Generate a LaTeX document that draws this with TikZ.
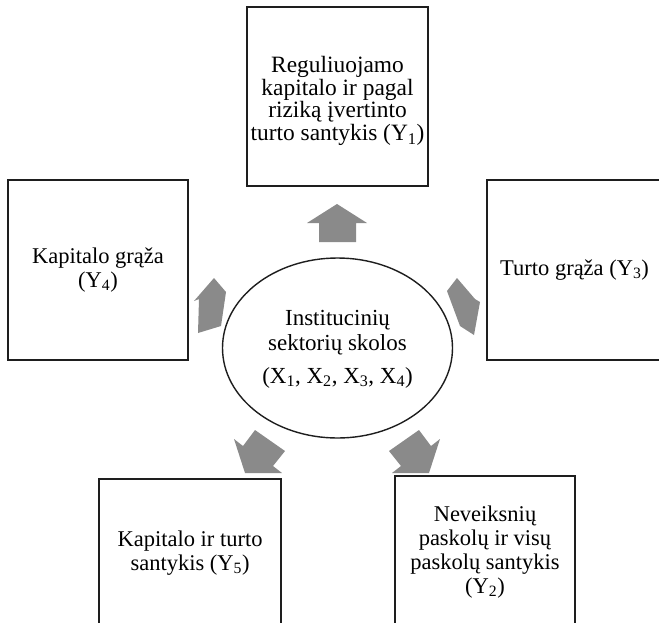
\documentclass[tikz,border=0pt]{standalone}
\usepackage{fontspec}
\setmainfont{Liberation Serif}
\usetikzlibrary{shapes.geometric}
\definecolor{arrowgray}{RGB}{138,138,138}
\definecolor{linecol}{RGB}{30,30,30}
\tikzset{
  box/.style={draw=linecol, line width=1.4pt, rectangle, minimum width=180pt, minimum height=180pt, inner sep=0pt},
  txt/.style={align=center, font=\fontsize{22.5}{24}\selectfont, inner sep=0pt},
  bigtxt/.style={align=center, font=\fontsize{23.4}{22.5}\selectfont, inner sep=0pt},
  blockarrow/.style={fill=arrowgray, draw=none},
  mid/.style={draw=linecol, line width=1.4pt, ellipse, minimum width=230pt, minimum height=180pt, inner sep=0pt}
}
\begin{document}
\begin{tikzpicture}[x=1pt,y=-1pt]
\clip (0,0) rectangle (659,622);
\fill[white] (0,0) rectangle (659,622);

% boxes
\node[box, minimum width=181pt, minimum height=179pt] (top) at (337.5,96.5) {};
\node[box] (left) at (98,270) {};
\node[box] (right) at (577,270) {};
\node[box, minimum width=182pt, minimum height=181pt] (bl) at (190,569.5) {};
\node[box, minimum height=184pt] (br) at (485,568) {};

% ellipse
\node[mid] (c) at (337.5,348) {};

% texts
\node[bigtxt] (ttop) at (337.5,101) {Reguliuojamo\\kapitalo ir pagal\\riziką įvertinto\\turto santykis (Y\textsubscript{1})};
\node[txt] (tleft) at (98,270) {Kapitalo grąža\\(Y\textsubscript{4})};
\node[txt, anchor=west] (tright) at (500,270) {Turto grąža (Y\textsubscript{3})};
\node[txt] (tbl) at (190,553) {Kapitalo ir turto\\santykis (Y\textsubscript{5})};
\node[txt] (tbr) at (485,552) {Neveiksnių\\paskolų ir visų\\paskolų santykis\\(Y\textsubscript{2})};
\node[txt, font=\fontsize{23}{25}\selectfont] (tc) at (337.5,349) {Institucinių\\sektorių skolos\\[8pt](X\textsubscript{1}, X\textsubscript{2}, X\textsubscript{3}, X\textsubscript{4})};

% block arrows
\fill[blockarrow] (337,204) -- (367,223) -- (356,223) -- (356,242) -- (319,242) -- (319,223) -- (307,223) -- cycle;
\fill[blockarrow] (214,278) -- (226,292) -- (221,326) -- (198,333) -- (199,299) -- (194,301) -- cycle;
\fill[blockarrow] (457,278) -- (475,299) -- (480,302) -- (474,335) -- (460,326) -- (447,291) -- cycle;
\fill[blockarrow] (245,473) -- (234,439) -- (243,446) -- (255,430) -- (285,451) -- (273,466) -- (282,473) -- cycle;
\fill[blockarrow] (429,473) -- (440,439) -- (431,446) -- (419,430) -- (389,451) -- (401,466) -- (392,473) -- cycle;
\end{tikzpicture}
\end{document}
